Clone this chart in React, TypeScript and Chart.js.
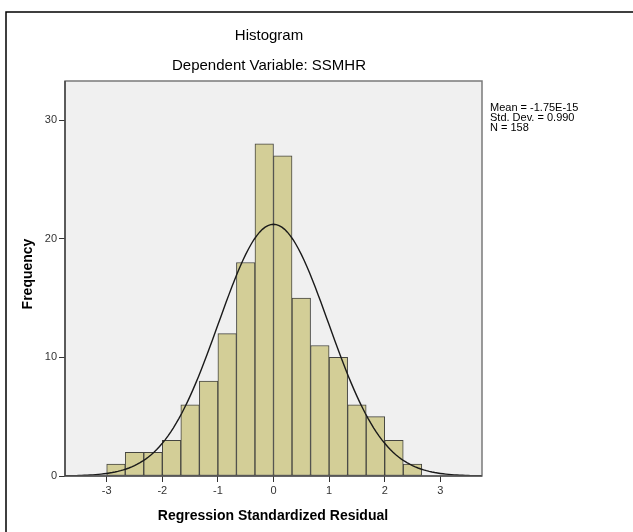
import React, { useEffect, useRef } from "react";
import { Chart, registerables } from "chart.js";

Chart.register(...registerables);

// Histogram bins (lower edges) and frequencies
const binStarts = [-3, -2.6667, -2.3333, -2, -1.6667, -1.3333, -1, -0.6667, -0.3333, 0, 0.3333, 0.6667, 1, 1.3333, 1.6667, 2, 2.3333];
const frequencies = [1, 2, 2, 3, 6, 8, 12, 18, 28, 27, 15, 11, 10, 6, 5, 3, 1];
const binWidth = 1 / 3;

// Displayed statistics
const statMean = -1.75e-15;
const statSD = 0.99;
const statN = 158;
const statLines = ["Mean = -1.75E-15", "Std. Dev. = 0.990", "N = 158"];

const xTickValues = [-3, -2, -1, 0, 1, 2, 3];
const yTickValues = [0, 10, 20, 30];

const FONT = "Arial, 'Liberation Sans', Helvetica, sans-serif";

function normalCurve() {
  const pts: { x: number; y: number }[] = [];
  for (let i = 0; i <= 150; i++) {
    const x = -3.75 + i * 0.05;
    const z = (x - statMean) / statSD;
    const pdf = Math.exp(-0.5 * z * z) / (statSD * Math.sqrt(2 * Math.PI));
    pts.push({ x, y: statN * binWidth * pdf });
  }
  return pts;
}

export default function App() {
  const ref = useRef<HTMLCanvasElement | null>(null);

  useEffect(() => {
    document.body.style.margin = "0";
    const canvas = ref.current;
    if (!canvas) return;

    const bars = binStarts.map((s, i) => ({ x: s + binWidth / 2, y: frequencies[i] }));

    const decor = {
      id: "decor",
      beforeDraw(chart: any) {
        const { ctx, chartArea: a } = chart;
        ctx.save();
        ctx.fillStyle = "#ffffff";
        ctx.fillRect(0, 0, chart.width, chart.height);
        ctx.fillStyle = "#F0F0F0";
        ctx.fillRect(a.left, a.top, a.right - a.left, a.bottom - a.top);
        ctx.restore();
      },
      afterDraw(chart: any) {
        const { ctx, chartArea: a } = chart;
        ctx.save();
        // plot border
        ctx.strokeStyle = "#7a7a7a";
        ctx.lineWidth = 1.5;
        ctx.strokeRect(a.left, a.top, a.right - a.left, a.bottom - a.top);
        // axis lines darker
        ctx.strokeStyle = "#333333";
        ctx.lineWidth = 1.2;
        ctx.beginPath();
        ctx.moveTo(a.left, a.top);
        ctx.lineTo(a.left, a.bottom);
        ctx.lineTo(a.right, a.bottom);
        ctx.stroke();

        // outer frame
        ctx.strokeStyle = "#000000";
        ctx.lineWidth = 1.5;
        ctx.beginPath();
        ctx.moveTo(6, chart.height);
        ctx.lineTo(6, 12);
        ctx.lineTo(chart.width, 12);
        ctx.stroke();

        // titles
        ctx.fillStyle = "#000000";
        ctx.textAlign = "center";
        ctx.textBaseline = "middle";
        ctx.font = `15px ${FONT}`;
        ctx.fillText("Histogram", 269, 36);
        ctx.fillText("Dependent Variable: SSMHR", 269, 66);

        ctx.font = `bold 14px ${FONT}`;
        ctx.fillText("Regression Standardized Residual", 273, 516);

        ctx.save();
        ctx.translate(28, 274);
        ctx.rotate(-Math.PI / 2);
        ctx.fillText("Frequency", 0, 0);
        ctx.restore();

        // stats
        ctx.textAlign = "left";
        ctx.font = `11px ${FONT}`;
        statLines.forEach((t, i) => ctx.fillText(t, 490, 108 + i * 10));
        ctx.restore();
      },
    };

    const chart = new Chart(canvas, {
      type: "bar",
      data: {
        datasets: [
          {
            type: "line",
            data: normalCurve(),
            borderColor: "#1a1a1a",
            borderWidth: 1.4,
            pointRadius: 0,
            tension: 0,
            fill: false,
            order: 0,
          } as any,
          {
            type: "bar",
            data: bars,
            backgroundColor: "#D3CE97",
            borderColor: "#454540",
            borderWidth: 1,
            borderSkipped: false,
            barPercentage: 1,
            categoryPercentage: 1,
            order: 1,
          } as any,
        ],
      },
      options: {
        responsive: false,
        animation: false,
        layout: { padding: { top: 81, right: 151, left: 0, bottom: 0 } },
        plugins: { legend: { display: false }, tooltip: { enabled: false }, title: { display: false } },
        scales: {
          x: {
            type: "linear",
            min: -3.75,
            max: 3.75,
            offset: false,
            afterFit: (s: any) => {
              s.height = 56;
            },
            afterBuildTicks: (s: any) => {
              s.ticks = xTickValues.map((v) => ({ value: v }));
            },
            ticks: {
              stepSize: 1,
              includeBounds: false,
              autoSkip: false,
              maxRotation: 0,
              color: "#333333",
              font: { family: FONT, size: 11 },
              padding: 2,
            },
            grid: { drawOnChartArea: false, drawTicks: true, tickLength: 6, color: "#333333", offset: false },
            border: { display: false },
          },
          y: {
            type: "linear",
            min: 0,
            max: 33.3,
            afterFit: (s: any) => {
              s.width = 65;
            },
            afterBuildTicks: (s: any) => {
              s.ticks = yTickValues.map((v) => ({ value: v }));
            },
            ticks: {
              stepSize: 10,
              includeBounds: false,
              color: "#333333",
              font: { family: FONT, size: 11 },
              padding: 2,
            },
            grid: { drawOnChartArea: false, drawTicks: true, tickLength: 6, color: "#333333" },
            border: { display: false },
          },
        },
      } as any,
      plugins: [decor],
    });

    return () => chart.destroy();
  }, []);

  return (
    <div style={{ position: "absolute", left: 0, top: 0, width: 633, height: 532 }}>
      <canvas ref={ref} width={633} height={532} style={{ display: "block" }} />
    </div>
  );
}
